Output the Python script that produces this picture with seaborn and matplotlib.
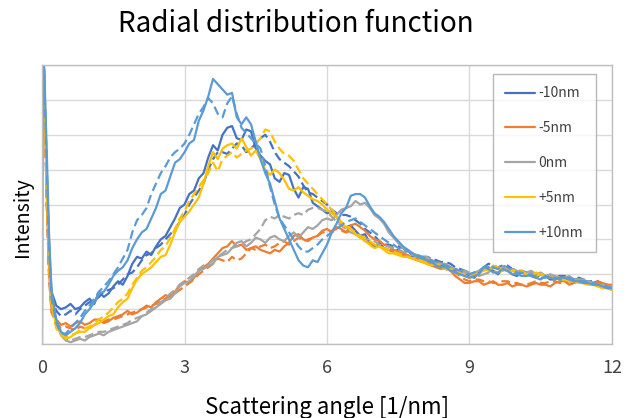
import numpy as np
import pandas as pd
import matplotlib
matplotlib.use("Agg")
import matplotlib.pyplot as plt
from matplotlib.lines import Line2D
import seaborn as sns

sns.set_theme(style="white")
plt.rcParams["font.family"] = ["Noto Sans CJK JP", "DejaVu Sans"]

# sample positions of the scattering-angle axis [1/nm]
q = [0, 0.02, 0.1, 0.15, 0.2, 0.3, 0.4, 0.5,
     0.6, 0.7, 0.8, 0.9, 1.0, 1.1, 1.2, 1.3, 1.4, 1.5,
     1.6, 1.7, 1.8, 1.9, 2.0, 2.1, 2.2, 2.3, 2.4, 2.5,
     2.6, 2.7, 2.8, 2.9, 3.0, 3.1, 3.2, 3.3, 3.4, 3.5,
     3.6, 3.7, 3.8, 3.9, 4.0, 4.1, 4.2, 4.3, 4.4, 4.5,
     4.6, 4.7, 4.8, 4.9, 5.0, 5.1, 5.2, 5.3, 5.4, 5.5,
     5.6, 5.7, 5.8, 5.9, 6.0, 6.1, 6.2, 6.3, 6.4, 6.5,
     6.6, 6.7, 6.8, 6.9, 7.0, 7.1, 7.2, 7.3, 7.4, 7.5,
     7.6, 7.7, 7.8, 7.9, 8.0, 8.1, 8.2, 8.3, 8.4, 8.5,
     8.6, 8.7, 8.8, 8.9, 9.0, 9.1, 9.2, 9.3, 9.4, 9.5,
     9.6, 9.7, 9.8, 9.9, 10.0, 10.1, 10.2, 10.3, 10.4, 10.5,
     10.6, 10.7, 10.8, 10.9, 11.0, 11.1, 11.2, 11.3, 11.4, 11.5,
     11.6, 11.7, 11.8, 11.9, 12.0]

offsets = ["-10nm", "-5nm", "0nm", "+5nm", "+10nm"]
colors = ["#4472C4", "#ED7D31", "#A5A5A5", "#FFC000", "#5B9BD5"]

# first scan (solid lines)
m10_a = [9, 9, 4.5, 2.2, 1.5, 1.1, 1.0, 1.05,
         1.15, 1.0, 1.05, 1.2, 1.3, 1.15, 1.5, 1.35, 1.45, 1.65,
         1.8, 1.7, 1.95, 2.3, 2.5, 2.45, 2.65, 2.55, 2.8, 3.0,
         3.1, 3.35, 3.6, 3.9, 4.0, 4.3, 4.4, 4.75, 4.9, 5.35,
         5.7, 5.55, 6.0, 6.2, 6.25, 5.9, 5.85, 6.15, 6.1, 5.6,
         5.4, 5.25, 5.15, 4.75, 4.65, 4.9, 4.85, 4.45, 4.2, 4.5,
         4.45, 4.05, 3.95, 3.85, 3.75, 3.8, 3.65, 3.4, 3.35, 3.4,
         3.25, 3.1, 3.15, 2.9, 2.8, 2.9, 2.75, 2.7, 2.65, 2.7,
         2.6, 2.5, 2.5, 2.55, 2.4, 2.35, 2.3, 2.4, 2.25, 2.2,
         2.15, 2.1, 2.0, 2.05, 1.95, 1.9, 2.05, 2.15, 2.2, 2.1,
         2.0, 2.15, 2.1, 2.0, 1.95, 2.05, 2.0, 1.95, 1.9, 2.0,
         1.95, 1.85, 1.85, 1.95, 1.9, 1.8, 1.8, 1.9, 1.85, 1.75,
         1.75, 1.8, 1.7, 1.6, 1.65]
m5_a = [9, 9, 4.2, 2.0, 1.0, 0.7, 0.55, 0.6,
        0.5, 0.6, 0.65, 0.55, 0.6, 0.7, 0.7, 0.6, 0.65, 0.75,
        0.8, 0.85, 0.95, 0.85, 0.9, 1.0, 1.1, 1.05, 1.2, 1.3,
        1.4, 1.35, 1.5, 1.7, 1.8, 1.75, 1.9, 2.1, 2.2, 2.3,
        2.45, 2.6, 2.75, 2.8, 2.95, 2.8, 2.85, 2.7, 2.75, 2.8,
        2.7, 2.65, 2.6, 2.7, 2.65, 2.8, 2.9, 3.1, 3.15, 3.0,
        2.95, 3.05, 3.1, 3.25, 3.3, 3.2, 3.35, 3.3, 3.2, 3.4,
        3.45, 3.35, 3.25, 3.1, 3.0, 2.95, 2.85, 2.8, 2.7, 2.65,
        2.6, 2.55, 2.45, 2.45, 2.4, 2.3, 2.25, 2.2, 2.15, 2.2,
        2.1, 1.95, 1.85, 1.75, 1.75, 1.8, 1.8, 1.7, 1.75, 1.8,
        1.7, 1.7, 1.75, 1.65, 1.7, 1.7, 1.65, 1.7, 1.75, 1.7,
        1.7, 1.65, 1.75, 1.8, 1.8, 1.7, 1.75, 1.8, 1.8, 1.75,
        1.7, 1.8, 1.75, 1.7, 1.7]
z0_a = [9, 9, 5.0, 3.0, 1.5, 0.6, 0.25, 0.1,
        0.05, 0.1, 0.15, 0.1, 0.2, 0.25, 0.3, 0.25, 0.35, 0.4,
        0.45, 0.5, 0.55, 0.6, 0.65, 0.8, 0.85, 0.95, 1.05, 1.15,
        1.25, 1.3, 1.45, 1.65, 1.75, 1.8, 1.95, 2.1, 2.15, 2.25,
        2.3, 2.5, 2.55, 2.6, 2.75, 2.9, 2.95, 2.8, 2.9, 3.05,
        3.0, 2.9, 3.05, 3.1, 3.0, 2.95, 3.1, 3.2, 3.05, 3.2,
        3.35, 3.3, 3.4, 3.55, 3.6, 3.55, 3.7, 3.85, 3.9, 3.95,
        4.1, 4.0, 4.05, 3.9, 3.7, 3.6, 3.45, 3.2, 3.05, 2.9,
        2.75, 2.7, 2.6, 2.55, 2.5, 2.5, 2.4, 2.35, 2.3, 2.3,
        2.2, 2.15, 2.1, 2.05, 2.0, 2.05, 1.95, 2.0, 2.05, 2.2,
        2.15, 2.2, 2.1, 2.15, 2.1, 2.05, 2.05, 2.1, 2.0, 2.05,
        1.95, 2.0, 1.95, 1.9, 1.9, 1.95, 1.85, 1.85, 1.8, 1.8,
        1.75, 1.7, 1.7, 1.65, 1.65]
p5_a = [9, 9, 4.5, 2.4, 1.2, 0.5, 0.3, 0.15,
        0.2, 0.3, 0.35, 0.35, 0.45, 0.55, 0.6, 0.7, 0.8, 0.85,
        1.05, 1.2, 1.3, 1.6, 1.85, 2.0, 2.1, 2.2, 2.35, 2.5,
        2.55, 2.85, 3.2, 3.5, 3.65, 3.8, 4.0, 4.2, 4.6, 5.1,
        5.5, 5.3, 5.6, 5.7, 5.75, 5.6, 5.9, 5.65, 5.4, 5.55,
        5.3, 5.0, 4.85, 5.0, 4.9, 4.7, 4.45, 4.4, 4.5, 4.35,
        4.25, 4.15, 4.1, 4.0, 3.85, 3.75, 3.65, 3.45, 3.35, 3.3,
        3.15, 3.05, 2.95, 2.85, 2.75, 2.8, 2.7, 2.6, 2.6, 2.55,
        2.5, 2.5, 2.45, 2.4, 2.35, 2.3, 2.25, 2.3, 2.2, 2.15,
        2.1, 2.05, 2.0, 1.95, 1.9, 1.95, 2.0, 2.15, 2.1, 2.25,
        2.2, 2.15, 2.1, 2.0, 2.05, 2.1, 2.0, 1.95, 2.05, 2.0,
        1.95, 1.9, 1.9, 1.85, 1.85, 1.8, 1.8, 1.75, 1.75, 1.7,
        1.7, 1.65, 1.6, 1.6, 1.55]
p10_a = [0, 9, 5.5, 3.0, 1.5, 0.7, 0.35, 0.25,
         0.35, 0.45, 0.6, 0.85, 1.0, 1.2, 1.45, 1.5, 1.7, 1.95,
         2.1, 2.2, 2.4, 2.75, 3.0, 3.2, 3.3, 3.6, 3.9, 4.3,
         4.4, 4.8, 5.2, 5.3, 5.5, 5.75, 5.85, 6.4, 6.7, 7.1,
         7.6, 7.45, 7.3, 7.15, 7.2, 6.5, 6.3, 6.5, 6.3, 5.8,
         5.3, 4.9, 4.6, 4.1, 3.6, 3.3, 3.0, 2.7, 2.4, 2.25,
         2.2, 2.4, 2.35, 2.6, 2.85, 3.2, 3.45, 3.75, 3.9, 4.25,
         4.3, 4.3, 4.2, 3.95, 3.75, 3.65, 3.5, 3.3, 3.1, 2.95,
         2.8, 2.7, 2.6, 2.5, 2.45, 2.4, 2.35, 2.25, 2.2, 2.2,
         2.1, 2.05, 2.0, 1.95, 1.9, 1.95, 2.0, 2.2, 2.15, 2.05,
         2.05, 2.15, 2.1, 2.0, 2.0, 1.95, 1.95, 2.0, 1.9, 1.85,
         1.95, 1.9, 1.85, 1.9, 1.9, 1.85, 1.8, 1.8, 1.75, 1.75,
         1.7, 1.7, 1.65, 1.6, 1.6]

# second scan (dashed lines)
m10_b = [9, 9, 4.0, 2.0, 1.3, 0.95, 0.8, 0.85,
         0.95, 0.85, 1.0, 1.1, 1.2, 1.25, 1.35, 1.5, 1.55, 1.6,
         1.7, 1.85, 2.0, 2.05, 2.2, 2.4, 2.55, 2.6, 2.75, 2.85,
         3.0, 3.15, 3.3, 3.5, 3.7, 4.0, 4.2, 4.4, 4.6, 5.0,
         5.3, 5.5, 5.5, 5.45, 5.6, 5.75, 5.7, 5.5, 5.6, 5.75,
         5.9, 6.0, 5.8, 5.5, 5.3, 5.2, 5.1, 4.95, 4.8, 4.55,
         4.35, 4.3, 4.2, 4.1, 4.0, 3.85, 3.75, 3.7, 3.7, 3.65,
         3.55, 3.45, 3.3, 3.2, 3.1, 2.95, 2.85, 2.85, 2.8, 2.8,
         2.75, 2.65, 2.55, 2.55, 2.5, 2.5, 2.45, 2.4, 2.35, 2.35,
         2.3, 2.2, 2.15, 2.1, 2.05, 2.0, 2.1, 2.2, 2.3, 2.25,
         2.2, 2.25, 2.25, 2.15, 2.1, 2.1, 2.05, 2.0, 2.0, 2.0,
         1.95, 1.9, 1.9, 1.95, 1.95, 1.9, 1.85, 1.85, 1.8, 1.8,
         1.8, 1.75, 1.7, 1.65, 1.6]
m5_b = [9, 9, 4.0, 1.8, 0.9, 0.6, 0.45, 0.5,
        0.45, 0.4, 0.5, 0.45, 0.45, 0.55, 0.6, 0.65, 0.7, 0.7,
        0.75, 0.8, 0.85, 0.9, 0.95, 1.0, 1.05, 1.1, 1.15, 1.25,
        1.3, 1.4, 1.45, 1.55, 1.65, 1.75, 1.85, 2.0, 2.1, 2.2,
        2.3, 2.45, 2.4, 2.35, 2.5, 2.4, 2.45, 2.6, 2.75, 2.7,
        2.8, 2.85, 2.75, 2.8, 2.9, 2.95, 2.85, 2.95, 3.05, 2.95,
        3.0, 3.05, 3.1, 3.2, 3.2, 3.25, 3.3, 3.25, 3.2, 3.25,
        3.15, 3.05, 2.95, 2.9, 2.85, 2.8, 2.75, 2.7, 2.65, 2.6,
        2.55, 2.5, 2.45, 2.4, 2.35, 2.35, 2.3, 2.25, 2.2, 2.15,
        2.1, 2.05, 1.95, 1.85, 1.8, 1.85, 1.85, 1.8, 1.8, 1.75,
        1.75, 1.8, 1.8, 1.75, 1.75, 1.7, 1.7, 1.75, 1.8, 1.75,
        1.75, 1.8, 1.8, 1.75, 1.75, 1.8, 1.8, 1.75, 1.75, 1.7,
        1.7, 1.75, 1.75, 1.7, 1.65]
z0_b = [9, 9, 4.8, 2.8, 1.4, 0.55, 0.3, 0.15,
        0.1, 0.15, 0.2, 0.2, 0.25, 0.3, 0.35, 0.35, 0.4, 0.45,
        0.5, 0.55, 0.6, 0.7, 0.75, 0.8, 0.9, 1.0, 1.1, 1.2,
        1.3, 1.45, 1.55, 1.7, 1.8, 1.9, 2.0, 2.15, 2.25, 2.3,
        2.4, 2.5, 2.6, 2.7, 2.75, 2.8, 2.85, 2.95, 3.0, 3.15,
        3.3, 3.55, 3.65, 3.6, 3.7, 3.65, 3.6, 3.7, 3.75, 3.7,
        3.85, 3.9, 3.9, 3.85, 3.8, 3.65, 3.5, 3.4, 3.3, 3.2,
        3.15, 3.1, 3.0, 3.0, 2.95, 2.85, 2.8, 2.8, 2.75, 2.7,
        2.65, 2.6, 2.55, 2.5, 2.45, 2.45, 2.4, 2.35, 2.3, 2.25,
        2.2, 2.15, 2.1, 2.1, 2.05, 2.05, 2.1, 2.15, 2.15, 2.2,
        2.1, 2.1, 2.15, 2.1, 2.05, 2.05, 2.0, 2.05, 2.05, 2.0,
        1.95, 1.95, 1.9, 1.9, 1.9, 1.85, 1.85, 1.85, 1.85, 1.8,
        1.75, 1.7, 1.7, 1.65, 1.65]
p5_b = [9, 9, 4.3, 2.2, 1.1, 0.45, 0.25, 0.2,
        0.25, 0.3, 0.4, 0.45, 0.5, 0.6, 0.7, 0.8, 0.9, 1.05,
        1.2, 1.3, 1.45, 1.7, 1.9, 2.1, 2.2, 2.35, 2.5, 2.7,
        2.8, 3.05, 3.3, 3.6, 3.8, 4.1, 4.3, 4.5, 4.7, 4.9,
        5.2, 4.95, 5.3, 5.4, 5.5, 5.35, 5.45, 5.55, 5.6, 5.75,
        5.9, 6.15, 6.1, 5.8, 5.6, 5.45, 5.4, 5.25, 5.0, 4.75,
        4.6, 4.45, 4.3, 4.15, 4.0, 3.85, 3.7, 3.5, 3.4, 3.3,
        3.2, 3.1, 3.05, 2.95, 2.85, 2.8, 2.75, 2.7, 2.65, 2.6,
        2.55, 2.5, 2.45, 2.45, 2.4, 2.35, 2.3, 2.3, 2.25, 2.2,
        2.15, 2.1, 2.05, 2.0, 1.95, 2.0, 2.05, 2.1, 2.15, 2.1,
        2.05, 2.1, 2.15, 2.1, 2.1, 2.05, 2.0, 2.0, 1.95, 2.0,
        1.95, 1.9, 1.9, 1.9, 1.85, 1.85, 1.8, 1.8, 1.8, 1.75,
        1.7, 1.7, 1.65, 1.6, 1.55]
p10_b = [9, 9, 5.0, 2.6, 1.3, 0.6, 0.3, 0.3,
         0.45, 0.6, 0.75, 0.95, 1.1, 1.3, 1.5, 1.65, 1.8, 2.0,
         2.2, 2.45, 2.7, 3.2, 3.55, 3.7, 3.9, 4.3, 4.6, 4.9,
         5.1, 5.35, 5.5, 5.6, 5.75, 6.0, 6.3, 6.6, 6.8, 7.05,
         6.9, 6.6, 6.5, 6.9, 7.1, 6.6, 6.2, 6.05, 5.9, 5.75,
         5.6, 5.1, 4.5, 4.0, 3.6, 3.4, 3.2, 3.0, 2.8, 2.65,
         2.65, 2.75, 2.85, 3.0, 3.1, 3.2, 3.3, 3.4, 3.5, 3.55,
         3.6, 3.5, 3.4, 3.3, 3.2, 3.1, 3.0, 2.9, 2.85, 2.75,
         2.7, 2.65, 2.6, 2.55, 2.5, 2.45, 2.4, 2.35, 2.3, 2.25,
         2.2, 2.15, 2.1, 2.05, 2.0, 2.05, 2.1, 2.2, 2.25, 2.2,
         2.15, 2.25, 2.2, 2.1, 2.05, 2.05, 2.0, 1.95, 1.95, 1.9,
         1.9, 1.95, 1.9, 1.85, 1.85, 1.9, 1.85, 1.8, 1.8, 1.8,
         1.75, 1.7, 1.7, 1.65, 1.6]

solid = [m10_a, m5_a, z0_a, p5_a, p10_a]
dashed = [m10_b, m5_b, z0_b, p5_b, p10_b]

frames = []
for scan, group in (("scan 1", solid), ("scan 2", dashed)):
    for name, vals in zip(offsets, group):
        frames.append(pd.DataFrame({"q": q, "I": vals,
                                    "offset": name, "scan": scan}))
df = pd.concat(frames, ignore_index=True)

fig = plt.figure(figsize=(6.33, 4.18), dpi=100)
ax = fig.add_axes([0.0664, 0.177, 0.9004, 0.6675])

sns.lineplot(data=df, x="q", y="I", hue="offset", style="scan",
             hue_order=offsets, style_order=["scan 1", "scan 2"],
             palette=dict(zip(offsets, colors)),
             dashes={"scan 1": "", "scan 2": (4, 2)},
             estimator=None, sort=False, linewidth=1.6,
             legend=False, ax=ax)

ax.set_xlim(0, 12)
ax.set_ylim(0, 8)
ax.set_xticks([0, 3, 6, 9, 12])
ax.set_xticklabels(["0", "3", "6", "9", "12"], fontsize=13, color="#404040")
ax.set_yticks(np.arange(0, 9, 1))
ax.set_yticklabels([])
ax.tick_params(axis="both", length=0, pad=11)
ax.grid(True, color="#D9D9D9", linewidth=1.0)
ax.set_axisbelow(True)
for side in ["top", "right", "bottom", "left"]:
    ax.spines[side].set_color("#BFBFBF")
    ax.spines[side].set_linewidth(1.0)
ax.set_xlabel("")
ax.set_ylabel("")

fig.text(0.468, 0.943, "Radial distribution function", ha="center",
         va="center", fontsize=20, color="#000000")
fig.text(0.517, 0.026, "Scattering angle [1/nm]", ha="center",
         va="center", fontsize=16, color="#000000")
fig.text(0.035, 0.48, "Intensity", ha="center", va="center",
         rotation=90, fontsize=14, color="#000000")

handles = [Line2D([0], [0], color=c, lw=1.6) for c in colors]
leg = ax.legend(handles, offsets, loc="upper left",
                bbox_to_anchor=(0.791, 0.968), borderaxespad=0,
                fontsize=10, handlelength=2.1, handletextpad=0.3,
                labelspacing=1.5, borderpad=0.9, frameon=True,
                fancybox=False)
leg.get_frame().set_edgecolor("#A6A6A6")
leg.get_frame().set_linewidth(1.0)
for t in leg.get_texts():
    t.set_color("#404040")

fig.savefig("out.png", dpi=100)
